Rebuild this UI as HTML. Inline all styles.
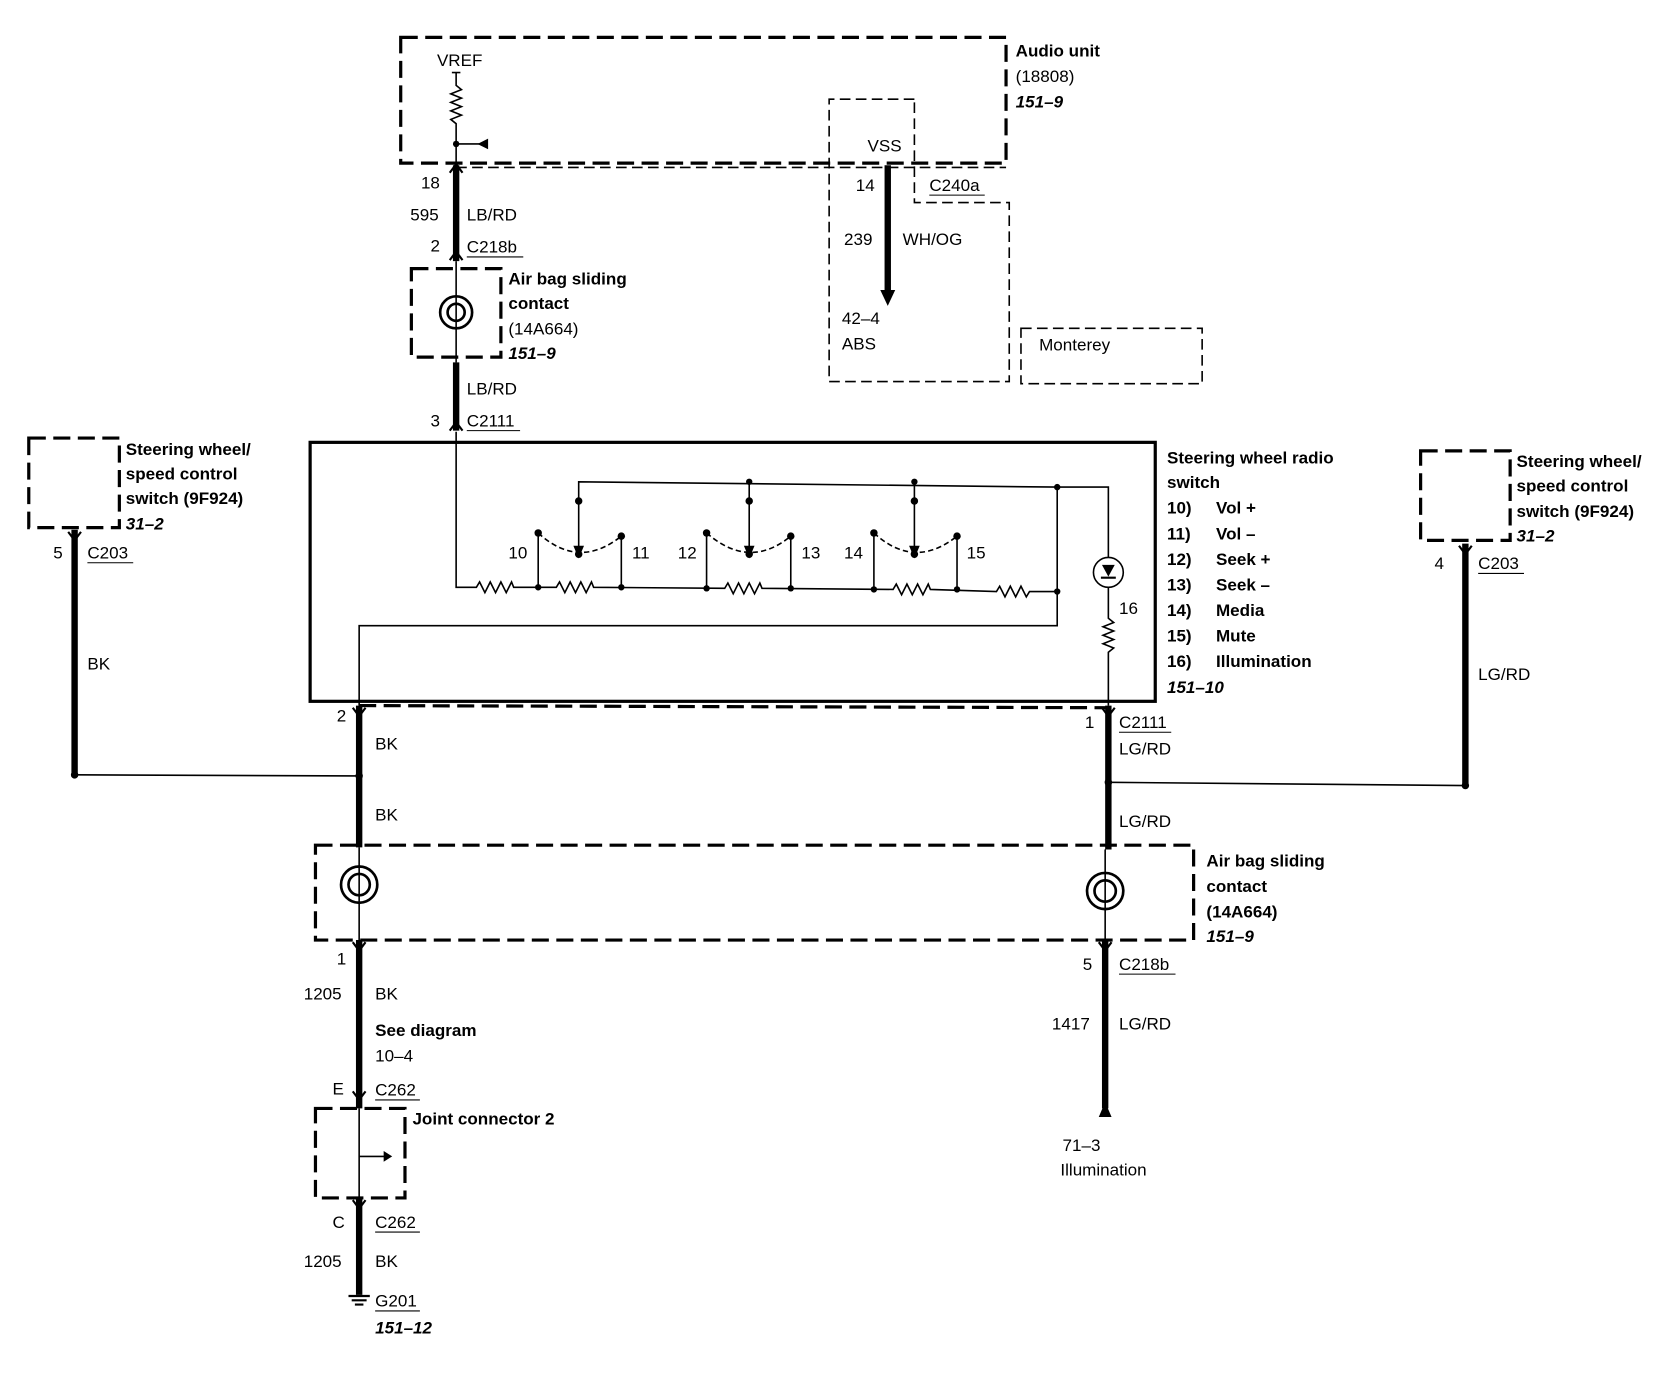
<!DOCTYPE html>
<html><head><meta charset="utf-8"><style>
html,body{margin:0;padding:0;background:#fff}
svg{display:block}
text{font-family:"Liberation Sans",sans-serif;font-size:16px;fill:#000}
.b{font-weight:bold}
.bi{font-weight:bold;font-style:italic}
</style></head><body>
<svg width="1670" height="1376" viewBox="0 0 1567 1291" xmlns="http://www.w3.org/2000/svg">
<g fill="none" stroke="#000">
<!-- dashed thick boxes -->
<g stroke-width="3" stroke-dasharray="16,7">
<rect x="376" y="35" width="568" height="118"/>
<rect x="386" y="252" width="84" height="83"/>
<rect x="27" y="411" width="85" height="84"/>
<rect x="1333" y="423" width="84" height="84"/>
<rect x="296" y="793" width="824" height="89"/>
<rect x="296" y="1040" width="84" height="84"/>
<line x1="337" y1="662" x2="1040" y2="664"/>
</g>
<!-- thin dashed -->
<g stroke-width="1.5" stroke-dasharray="10,5">
<path d="M858 93 L778 93 L778 358 L947 358 L947 190 L858 190 L858 93"/>
<rect x="958" y="308" width="170" height="52"/>
<line x1="428" y1="157" x2="944" y2="157"/>
</g>
<!-- radio switch box -->
<rect x="291" y="415" width="793" height="243" stroke-width="3"/>
<!-- thin wiring -->
<g stroke-width="1.5">
<path d="M428 68 L428 80 l5 4 l-10 4 l10 4 l-10 4 l10 4 l-10 4 l10 4 l-10 4 l5 4 L428 153"/>
<line x1="424" y1="68" x2="432" y2="68"/>
<line x1="428" y1="135" x2="452" y2="135"/>
<path d="M428 405 L428 551 L447 551 l3 -5 l5 10 l5 -10 l5 10 l5 -10 l5 10 l5 -10 l2 5 L522 551 l3 -5 l5 10 l5 -10 l5 10 l5 -10 l5 10 l5 -10 l2 5 L680 552 l3 -5 l5 10 l5 -10 l5 10 l5 -10 l5 10 l5 -10 l2 5 L838 553 l3 -5 l5 10 l5 -10 l5 10 l5 -10 l5 10 l5 -10 l2 5 L935 555 l3 -5 l5 10 l5 -10 l5 10 l5 -10 l5 10 l3 -5 L992 555"/>
<path d="M543 520 L543 452 L992 457 L1040 457 L1040 523"/>
<path d="M1040 551 L1040 580 l5 4 l-10 4 l10 4 l-10 4 l10 4 l-10 4 l10 4 l-5 4 L1040 662"/>
<circle cx="1040" cy="537" r="14"/>
<path d="M992 457 L992 587 L337 587 L337 662"/>
<line x1="703" y1="452" x2="703" y2="520"/>
<line x1="858" y1="452" x2="858" y2="520"/>
<path d="M505 500 L505 551 M583 503 L583 551 M663 500 L663 552 M742 503 L742 552 M820 500 L820 553 M898 503 L898 553"/>
<path d="M505 500 Q543 535 583 503 M663 500 Q703 535 742 503 M820 500 Q858 535 898 503" stroke-dasharray="5,3"/>
<line x1="70" y1="727" x2="337" y2="728"/>
<line x1="1040" y1="734" x2="1375" y2="737"/>
<line x1="337" y1="1085" x2="362" y2="1085"/>
</g>
<!-- thick wires -->
<g stroke-width="6">
<line x1="428" y1="155" x2="428" y2="245"/>
<line x1="428" y1="340" x2="428" y2="404"/>
<line x1="833" y1="155" x2="833" y2="275"/>
<line x1="337" y1="662" x2="337" y2="795"/>
<line x1="1040" y1="662" x2="1040" y2="797"/>
<line x1="70" y1="497" x2="70" y2="727"/>
<line x1="1375" y1="510" x2="1375" y2="737"/>
<line x1="337" y1="882" x2="337" y2="1040"/>
<line x1="337" y1="1124" x2="337" y2="1215"/>
<line x1="1037" y1="882" x2="1037" y2="1040"/>
</g>
<g stroke-width="1.5">
<line x1="337" y1="1040" x2="337" y2="1124"/>
<line x1="337" y1="795" x2="337" y2="882"/>
<line x1="1037" y1="797" x2="1037" y2="882"/>
<line x1="428" y1="245" x2="428" y2="340"/>
</g>
<!-- coils -->
<g stroke-width="2.5">
<circle cx="428" cy="293" r="15"/><circle cx="428" cy="293" r="8"/>
<circle cx="337" cy="830" r="17"/><circle cx="337" cy="830" r="10"/>
<circle cx="1037" cy="836" r="17"/><circle cx="1037" cy="836" r="10"/>
</g>
<!-- connector chevrons -->
<g stroke-width="2">
<path d="M422 162 L428 154 L434 162 M422 244 L428 236 L434 244 M422 404 L428 396 L434 404"/>
<path d="M331 664 L337 672 L343 664 M1034 664 L1040 672 L1046 664 M64 499 L70 507 L76 499 M1369 512 L1375 520 L1381 512 M331 884 L337 892 L343 884 M1031 884 L1037 892 L1043 884 M331 1024 L337 1032 L343 1024 M331 1126 L337 1134 L343 1126"/>
<path d="M327 1216 L347 1216 M330 1220 L344 1220 M333 1224 L341 1224"/>
</g>
</g>
<g fill="#000">
<polygon points="826,272 840,272 833,287"/>
<polygon points="1031,1048 1043,1048 1037,1034"/>
<polygon points="448,130 448,140 458,135" transform="rotate(180 453 135)"/>
<polygon points="538,512 548,512 543,524"/><polygon points="698,512 708,512 703,524"/><polygon points="853,512 863,512 858,524"/>
<polygon points="1034,530 1046,530 1040,541"/><rect x="1033" y="541" width="14" height="2"/>
<polygon points="360,1080 368,1085 360,1090"/>
<circle cx="428" cy="135" r="3"/>
<circle cx="543" cy="470" r="3.5"/><circle cx="703" cy="470" r="3.5"/><circle cx="858" cy="470" r="3.5"/>
<circle cx="703" cy="452" r="3"/><circle cx="858" cy="452" r="3"/><circle cx="992" cy="457" r="3"/>
<circle cx="543" cy="520" r="3.5"/><circle cx="703" cy="520" r="3.5"/><circle cx="858" cy="520" r="3.5"/>
<circle cx="505" cy="500" r="3.5"/><circle cx="583" cy="503" r="3.5"/><circle cx="663" cy="500" r="3.5"/><circle cx="742" cy="503" r="3.5"/><circle cx="820" cy="500" r="3.5"/><circle cx="898" cy="503" r="3.5"/>
<circle cx="505" cy="551" r="3"/><circle cx="583" cy="551" r="3"/><circle cx="663" cy="552" r="3"/><circle cx="742" cy="552" r="3"/><circle cx="820" cy="553" r="3"/><circle cx="898" cy="553" r="3"/><circle cx="992" cy="555" r="3"/>
<circle cx="70" cy="727" r="3.5"/><circle cx="337" cy="728" r="3.5"/><circle cx="1040" cy="734" r="3.5"/><circle cx="1375" cy="737" r="3.5"/>
</g>
<g>
<text x="410" y="62">VREF</text>
<text x="953" y="53" class="b">Audio unit</text><text x="953" y="77">(18808)</text><text x="953" y="101" class="bi">151–9</text>
<text x="814" y="142">VSS</text>
<text x="395" y="177">18</text><text x="803" y="179">14</text><text x="872" y="179">C240a</text>
<text x="385" y="207">595</text><text x="438" y="207">LB/RD</text>
<text x="792" y="230">239</text><text x="847" y="230">WH/OG</text>
<text x="404" y="236">2</text><text x="438" y="237">C218b</text>
<text x="477" y="267" class="b">Air bag sliding</text><text x="477" y="290" class="b">contact</text><text x="477" y="314">(14A664)</text><text x="477" y="337" class="bi">151–9</text>
<text x="790" y="304">42–4</text><text x="790" y="328">ABS</text>
<text x="975" y="329">Monterey</text>
<text x="438" y="370">LB/RD</text>
<text x="404" y="400">3</text><text x="438" y="400">C2111</text>
<text x="118" y="427" class="b">Steering wheel/</text><text x="118" y="450" class="b">speed control</text><text x="118" y="473" class="b">switch (9F924)</text><text x="118" y="497" class="bi">31–2</text>
<text x="1423" y="438" class="b">Steering wheel/</text><text x="1423" y="461" class="b">speed control</text><text x="1423" y="485" class="b">switch (9F924)</text><text x="1423" y="508" class="bi">31–2</text>
<text x="1095" y="435" class="b">Steering wheel radio</text><text x="1095" y="458" class="b">switch</text>
<g class="b">
<text x="1095" y="482" class="b">10)</text><text x="1141" y="482" class="b">Vol +</text>
<text x="1095" y="506" class="b">11)</text><text x="1141" y="506" class="b">Vol –</text>
<text x="1095" y="530" class="b">12)</text><text x="1141" y="530" class="b">Seek +</text>
<text x="1095" y="554" class="b">13)</text><text x="1141" y="554" class="b">Seek –</text>
<text x="1095" y="578" class="b">14)</text><text x="1141" y="578" class="b">Media</text>
<text x="1095" y="602" class="b">15)</text><text x="1141" y="602" class="b">Mute</text>
<text x="1095" y="626" class="b">16)</text><text x="1141" y="626" class="b">Illumination</text>
</g>
<text x="1095" y="650" class="bi">151–10</text>
<text x="477" y="524">10</text><text x="593" y="524">11</text><text x="636" y="524">12</text><text x="752" y="524">13</text><text x="792" y="524">14</text><text x="907" y="524">15</text>
<text x="1050" y="576">16</text>
<text x="50" y="524">5</text><text x="82" y="524">C203</text>
<text x="1346" y="534">4</text><text x="1387" y="534">C203</text>
<text x="82" y="628">BK</text><text x="1387" y="638">LG/RD</text>
<text x="316" y="677">2</text><text x="352" y="703">BK</text>
<text x="1018" y="683">1</text><text x="1050" y="683">C2111</text><text x="1050" y="708">LG/RD</text>
<text x="352" y="770">BK</text><text x="1050" y="776">LG/RD</text>
<text x="1132" y="813" class="b">Air bag sliding</text><text x="1132" y="837" class="b">contact</text><text x="1132" y="861" class="b">(14A664)</text><text x="1132" y="884" class="bi">151–9</text>
<text x="316" y="905">1</text><text x="1016" y="910">5</text><text x="1050" y="910">C218b</text>
<text x="285" y="938">1205</text><text x="352" y="938">BK</text>
<text x="987" y="966">1417</text><text x="1050" y="966">LG/RD</text>
<text x="352" y="972" class="b">See diagram</text><text x="352" y="996">10–4</text>
<text x="312" y="1027">E</text><text x="352" y="1028">C262</text>
<text x="387" y="1055" class="b">Joint connector 2</text>
<text x="997" y="1080">71–3</text><text x="995" y="1103">Illumination</text>
<text x="312" y="1152">C</text><text x="352" y="1152">C262</text>
<text x="285" y="1189">1205</text><text x="352" y="1189">BK</text>
<text x="352" y="1226">G201</text><text x="352" y="1251" class="bi">151–12</text>
</g>
<g stroke="#000" stroke-width="1">
<line x1="872" y1="183" x2="924" y2="183"/><line x1="438" y1="241" x2="491" y2="241"/><line x1="438" y1="404" x2="488" y2="404"/>
<line x1="82" y1="528" x2="125" y2="528"/><line x1="1387" y1="538" x2="1430" y2="538"/>
<line x1="1050" y1="687" x2="1099" y2="687"/><line x1="1050" y1="914" x2="1103" y2="914"/>
<line x1="352" y1="1032" x2="394" y2="1032"/><line x1="352" y1="1156" x2="394" y2="1156"/><line x1="352" y1="1230" x2="394" y2="1230"/>
</g>
</svg>
</body></html>
